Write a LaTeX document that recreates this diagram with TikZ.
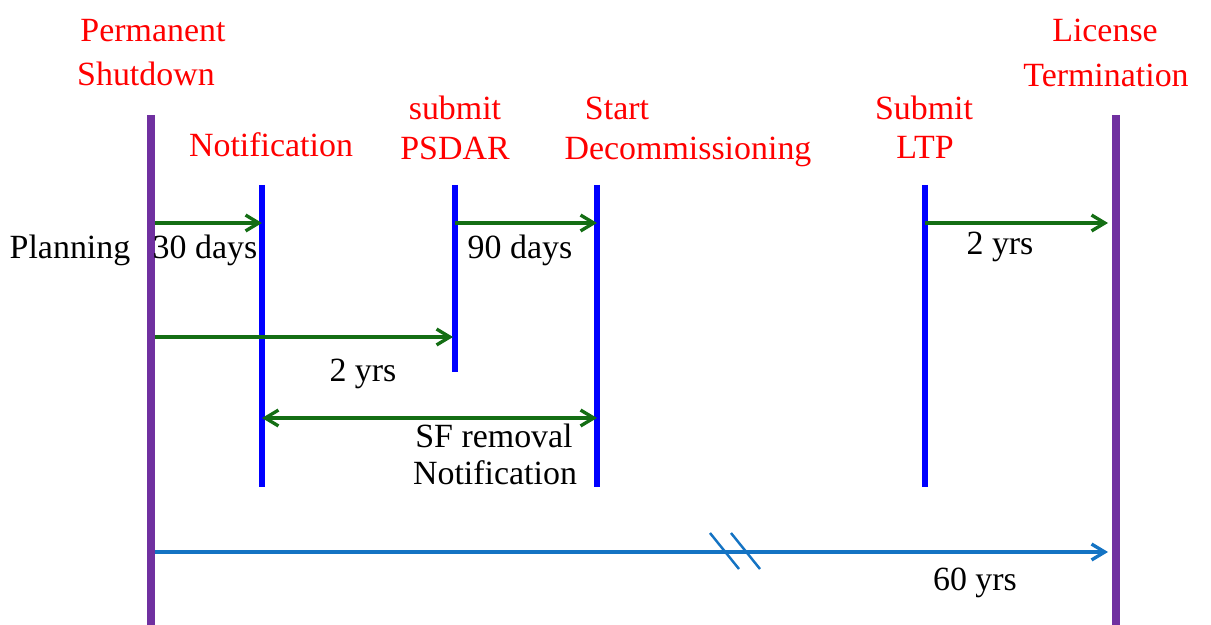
\documentclass[tikz,border=0pt]{standalone}
\usepackage{fontspec}
\setmainfont{Liberation Serif}
\usetikzlibrary{arrows.meta}
\definecolor{evpurple}{RGB}{112,48,160}
\definecolor{evblue}{RGB}{0,0,255}
\definecolor{spangreen}{RGB}{20,110,20}
\definecolor{lifeblue}{RGB}{20,115,195}
\tikzset{
  lbl/.style={anchor=base,inner sep=0pt,font=\fontsize{19.3pt}{20pt}\selectfont},
  evtlbl/.style={lbl,text=red},
  durlbl/.style={lbl,text=black},
  endline/.style={evpurple,line width=5pt},
  evtline/.style={evblue,line width=3pt},
  barb/.tip={Straight Barb[length=7.5pt,width=9pt,line width=1.9pt]},
  span/.style={spangreen,line width=1.9pt,-barb},
  bispan/.style={spangreen,line width=1.9pt,barb-barb},
  life/.style={lifeblue,line width=1.9pt,-barb},
  breakmark/.style={lifeblue,line width=1.4pt}
}
\begin{document}
\begin{tikzpicture}[x=0.02cm,y=-0.02cm]
\useasboundingbox (0,0) rectangle (1211,625);

% timelines: ends of the horizon (purple) and intermediate events (blue)
\coordinate (psTop) at (151,115);  \coordinate (psBot) at (151,625);
\coordinate (ltTop) at (1116,115); \coordinate (ltBot) at (1116,625);
\coordinate (noTop) at (262,185);  \coordinate (noBot) at (262,487);
\coordinate (pdTop) at (455,185);  \coordinate (pdBot) at (455,372);
\coordinate (sdTop) at (597,185);  \coordinate (sdBot) at (597,487);
\coordinate (lpTop) at (925,185);  \coordinate (lpBot) at (925,487);

\draw[endline] (psTop) -- (psBot);
\draw[endline] (ltTop) -- (ltBot);
\draw[evtline] (noTop) -- (noBot);
\draw[evtline] (pdTop) -- (pdBot);
\draw[evtline] (sdTop) -- (sdBot);
\draw[evtline] (lpTop) -- (lpBot);

% event labels
\node[evtlbl] (psA) at (153,42) {Permanent};
\node[evtlbl] (psB) at (146,86) {Shutdown};
\node[evtlbl] (noA) at (271,156) {Notification};
\node[evtlbl] (pdA) at (455,120) {submit};
\node[evtlbl] (pdB) at (455,159) {PSDAR};
\node[evtlbl] (sdA) at (617,120) {Start};
\node[evtlbl] (sdB) at (688,159) {Decommissioning};
\node[evtlbl] (lpA) at (924,120) {Submit};
\node[evtlbl] (lpB) at (925,158) {LTP};
\node[evtlbl] (ltA) at (1105,42) {License};
\node[evtlbl] (ltB) at (1106,87) {Termination};

% anchor points of the spans on the timelines
\coordinate (a1s) at (155,223); \coordinate (a1e) at (262,223);
\coordinate (a2s) at (455,223); \coordinate (a2e) at (597,223);
\coordinate (a3s) at (925,223); \coordinate (a3e) at (1108,223);
\coordinate (a4s) at (155,337); \coordinate (a4e) at (453,337);
\coordinate (a5s) at (262,418); \coordinate (a5e) at (597,418);
\coordinate (a6s) at (155,552); \coordinate (a6e) at (1108,552);

\draw[span] (a1s) -- (a1e);
\draw[span] (a2s) -- (a2e);
\draw[span] (a3s) -- (a3e);
\draw[span] (a4s) -- (a4e);
\draw[bispan] (a5s) -- (a5e);
\draw[life] (a6s) -- (a6e);

% break in the long time axis
\coordinate (b1a) at (710,533); \coordinate (b1b) at (739,569);
\coordinate (b2a) at (731,533); \coordinate (b2b) at (760,569);
\draw[breakmark] (b1a) -- (b1b);
\draw[breakmark] (b2a) -- (b2b);

% duration labels
\node[durlbl] (plan) at (70,258) {Planning};
\node[durlbl] (d30) at (205,258) {30 days};
\node[durlbl] (d90) at (520,258) {90 days};
\node[durlbl] (y2r) at (1000,255) {2 yrs};
\node[durlbl] (y2m) at (363,381) {2 yrs};
\node[durlbl] (sfA) at (494,447) {SF removal};
\node[durlbl] (sfB) at (495,484) {Notification};
\node[durlbl] (y60) at (975,590) {60 yrs};
\end{tikzpicture}
\end{document}
